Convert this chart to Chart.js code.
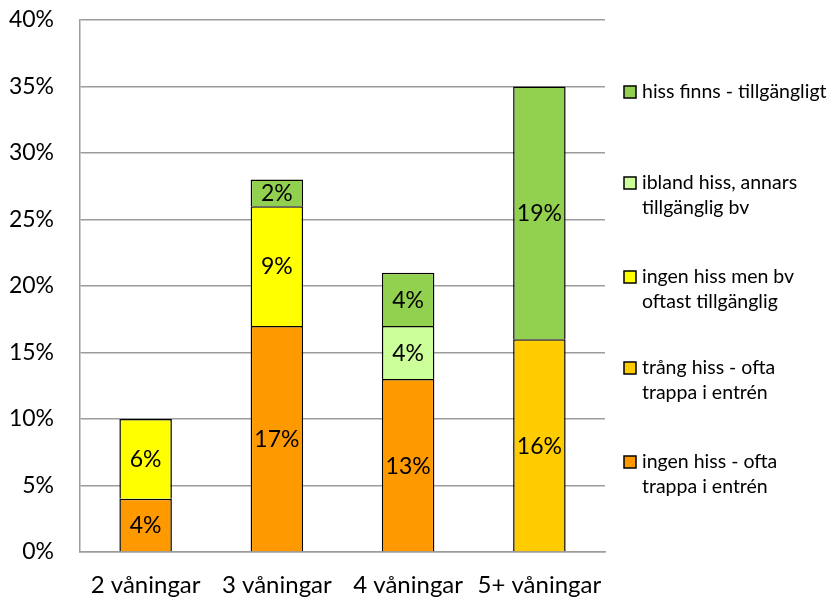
<!DOCTYPE html>
<html>
<head>
<meta charset="utf-8">
<script src="https://cdn.jsdelivr.net/npm/chart.js@4"></script>
<style>
  html, body { margin: 0; padding: 0; background: #fff; }
  #wrap { width: 833px; height: 599px; position: relative; }
</style>
</head>
<body>
<div id="wrap"><canvas id="hissChart"></canvas></div>
<script>
const categories = ['2 våningar', '3 våningar', '4 våningar', '5+ våningar'];

// stacked bottom to top
const ingenHissTrappa = [4, 17, 13, null];
const trangHiss = [null, null, null, 16];
const ingenHissBv = [6, 9, null, null];
const iblandHiss = [null, null, 4, null];
const hissFinns = [null, 2, 4, 19];

const yTicks = [0, 5, 10, 15, 20, 25, 30, 35, 40];

const FONT = 'Lato';
const gridColor = '#9c9c9c';

function ds(label, data, color, legendLines) {
    return {
        label: label,
        data: data,
        backgroundColor: color,
        borderColor: '#000',
        borderWidth: 1.5,
        barPercentage: 0.8,
        categoryPercentage: 0.5,
        legendLines: legendLines
    };
}

// legend on the right, drawn by hand so the labels can wrap
const sideLegend = {
    id: 'sideLegend',
    afterDraw(chart) {
        const c = chart.ctx;
        const items = chart.data.datasets.slice().reverse();
        const tops = [92, 183, 277, 368, 462];
        c.save();
        c.font = '19.5px ' + FONT;
        c.textBaseline = 'middle';
        c.textAlign = 'left';
        items.forEach(function(d, i) {
            const y = tops[i];
            c.fillStyle = d.backgroundColor;
            c.fillRect(624, y - 6, 12, 12);
            c.strokeStyle = '#000';
            c.lineWidth = 1.5;
            c.strokeRect(624, y - 6, 12, 12);
            c.fillStyle = '#000';
            d.legendLines.forEach(function(line, j) {
                c.fillText(line, 642, y + j * 25);
            });
        });
        c.restore();
    }
};

// percent labels in the middle of every segment
const segLabels = {
    id: 'segLabels',
    afterDatasetsDraw(chart) {
        const c = chart.ctx;
        c.save();
        c.font = '23px ' + FONT;
        c.fillStyle = '#000';
        c.textAlign = 'center';
        c.textBaseline = 'middle';
        chart.data.datasets.forEach(function(d, i) {
            chart.getDatasetMeta(i).data.forEach(function(bar, j) {
                const v = d.data[j];
                if (v == null) return;
                const p = bar.getProps(['x', 'y', 'base'], true);
                c.fillText(v + '%', p.x, (p.y + p.base) / 2 + 1);
            });
        });
        c.restore();
    }
};

new Chart(document.getElementById('hissChart'), {
    type: 'bar',
    data: {
        labels: categories,
        datasets: [
            ds('ingen hiss - ofta trappa i entrén', ingenHissTrappa, '#FF9900', ['ingen hiss - ofta', 'trappa i entrén']),
            ds('trång hiss - ofta trappa i entrén', trangHiss, '#FFCC00', ['trång hiss - ofta', 'trappa i entrén']),
            ds('ingen hiss men bv oftast tillgänglig', ingenHissBv, '#FFFF00', ['ingen hiss men bv', 'oftast tillgänglig']),
            ds('ibland hiss, annars tillgänglig bv', iblandHiss, '#CCFF99', ['ibland hiss, annars', 'tillgänglig bv']),
            ds('hiss finns - tillgängligt', hissFinns, '#92D050', ['hiss finns - tillgängligt'])
        ]
    },
    options: {
        responsive: true,
        maintainAspectRatio: false,
        animation: false,
        layout: { padding: { top: 20, right: 228, left: 0, bottom: 0 } },
        plugins: {
            legend: { display: false },
            tooltip: { enabled: false }
        },
        scales: {
            x: {
                stacked: true,
                grid: { display: false, drawTicks: false },
                border: { color: gridColor, width: 1.5 },
                ticks: { color: '#000', font: { family: FONT, size: 24 }, padding: 19, maxRotation: 0 },
                afterFit(scale) { scale.height = 47; }
            },
            y: {
                stacked: true,
                min: 0,
                max: 40,
                afterBuildTicks(scale) { scale.ticks = yTicks.map(function(v) { return { value: v }; }); },
                grid: { color: gridColor, lineWidth: 1.5, drawTicks: false },
                border: { color: gridColor, width: 1.5 },
                ticks: {
                    color: '#000',
                    font: { family: FONT, size: 23 },
                    padding: 26,
                    callback: function(v) { return v + '%'; }
                },
                afterFit(scale) {
                    scale.width = 80;
                    scale.paddingTop = 0;
                    scale.paddingBottom = 0;
                }
            }
        }
    },
    plugins: [segLabels, sideLegend]
});
</script>
</body>
</html>
